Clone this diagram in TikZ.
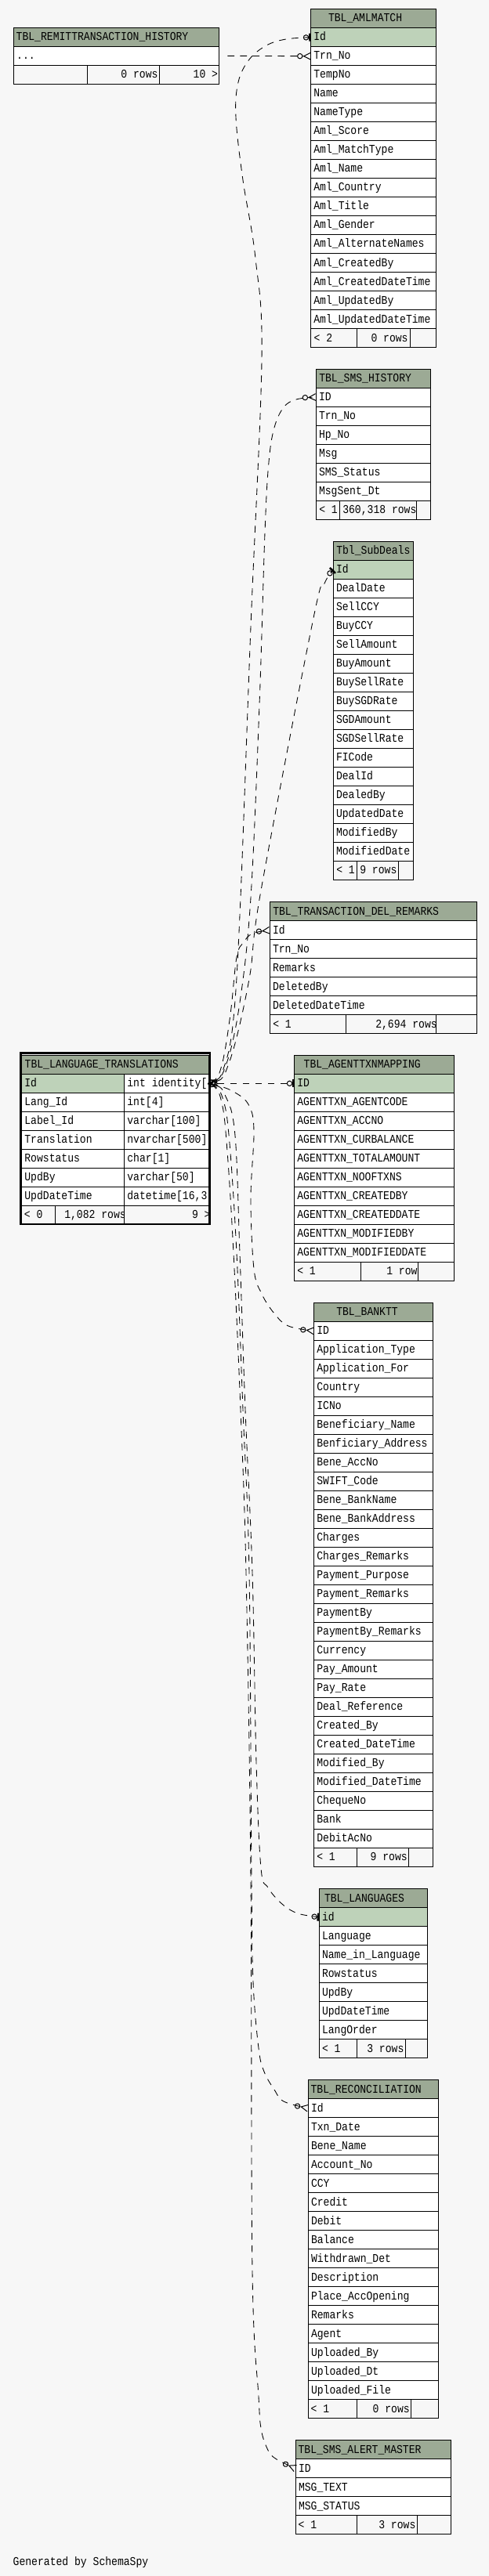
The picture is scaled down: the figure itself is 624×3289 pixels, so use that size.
\documentclass[tikz,border=0pt]{standalone}
\usepackage{fontspec}
\usetikzlibrary{arrows.meta}
\newfontfamily\tblfont[FakeStretch=0.86]{Liberation Mono}
\definecolor{bgc}{HTML}{F7F7F7}
\definecolor{hdrc}{HTML}{9CAA95}
\definecolor{keyc}{HTML}{BED2B9}
\newcommand\tdots{.{}.{}.}
\tikzset{
  cellbox/.style={draw=black, line width=0.75pt},
  txt/.style={anchor=base west, inner sep=0pt, outer sep=0pt, font={\tblfont\fontsize{11.4pt}{12pt}\selectfont}},
  rel/.style={draw=black, line width=0.65pt, dash pattern=on 6.5pt off 5.5pt},
  toparent/.style={arrows={{Straight Barb[reversed,length=6pt,width=7pt,line width=0.7pt]}-{Circle[open,length=5.5pt,width=5.5pt,line width=0.75pt] Bar[width=7.5pt,line width=1.9pt]}}},
  tochild/.style={arrows={{Bar[width=7pt,line width=0.9pt]}-{Circle[open,length=5.5pt,width=5.5pt,line width=0.75pt] Straight Barb[reversed,length=6.5pt,width=6.5pt,line width=0.75pt]}}},
  remitrel/.style={arrows={-{Circle[open,length=5.5pt,width=5.5pt,line width=0.75pt] Straight Barb[reversed,length=6.5pt,width=6.5pt,line width=0.75pt]}}},
}
% name, x, y, w, header offset, header, key flag, rows
\newcommand\erdtab[8]{%
  \path[cellbox, fill=hdrc] (#2,#3) rectangle ++(#4,24);
  \node[txt] (#1-h) at (#2+#5,#3+16.3) {#6};
  \foreach \rowtext [count=\i] in {#8} {%
    \ifnum\i=1 \ifnum#7=1 \def\fc{keyc}\else\def\fc{white}\fi\else\def\fc{white}\fi
    \path[cellbox, fill=\fc] (#2,#3+24*\i) rectangle ++(#4,24);
    \node[txt] (#1-\i) at (#2+3.7,#3+24*\i+16.3) {\rowtext};
    \coordinate (#1-\i-w) at (#2,#3+24*\i+12);
    \coordinate (#1-\i-e) at (#2+#4,#3+24*\i+12);
  }%
}
% y, x0, x1, x2, x3
\newcommand\erdfoot[5]{%
  \path[cellbox, fill=bgc] (#2,#1) rectangle (#3,#1+24);
  \path[cellbox, fill=bgc] (#3,#1) rectangle (#4,#1+24);
  \path[cellbox, fill=bgc] (#4,#1) rectangle (#5,#1+24);
}
% name, x, ytop, clip x1, clip x2, text
\newcommand\ftxt[6]{%
  \begin{scope}\clip (#4,#3) rectangle (#5,#3+24);
  \node[txt] (#1) at (#2,#3+16.3) {#6};\end{scope}%
}
\begin{document}
\begin{tikzpicture}[x=0.75pt,y=-0.75pt]
\fill[bgc] (0,0) rectangle (624,3289);
\useasboundingbox (0,0) rectangle (624,3289);

% TBL_REMITTRANSACTION_HISTORY
\erdtab{rm}{17.5}{35.3}{262.2}{3.2}{TBL\_REMITTRANSACTION\_HISTORY}{0}{\tdots}
\erdfoot{83.3}{17.5}{111}{203.7}{279.7}
\ftxt{rm-f2}{154.4}{83.3}{111}{203.7}{0 rows}
\ftxt{rm-f3}{246.7}{83.3}{203.7}{279.7}{10 >}

% TBL_AMLMATCH
\erdtab{aml}{396.7}{11.7}{159.6}{22.3}{TBL\_AMLMATCH}{1}{Id, Trn\_No, TempNo, Name, NameType, Aml\_Score, Aml\_MatchType, Aml\_Name, Aml\_Country, Aml\_Title, Aml\_Gender, Aml\_AlternateNames, Aml\_CreatedBy, Aml\_CreatedDateTime, Aml\_UpdatedBy, Aml\_UpdatedDateTime}
\erdfoot{419.7}{396.7}{455.2}{523.3}{556.3}
\ftxt{aml-f1}{400.7}{419.7}{396.7}{455.2}{< 2}
\ftxt{aml-f2}{473.5}{419.7}{455.2}{523.3}{0 rows}

% TBL_SMS_HISTORY
\erdtab{sms}{403.3}{471}{146}{4}{TBL\_SMS\_HISTORY}{0}{ID, Trn\_No, Hp\_No, Msg, SMS\_Status, MsgSent\_Dt}
\erdfoot{639}{403.3}{433.3}{531.7}{549.3}
\ftxt{sms-f1}{407.3}{639}{403.3}{433.3}{< 1}
\ftxt{sms-f2}{437.3}{639}{433.3}{531.7}{360,318 rows}

% Tbl_SubDeals
\erdtab{sd}{425.3}{691.5}{102}{4}{Tbl\_SubDeals}{1}{Id, DealDate, SellCCY, BuyCCY, SellAmount, BuyAmount, BuySellRate, BuySGDRate, SGDAmount, SGDSellRate, FICode, DealId, DealedBy, UpdatedDate, ModifiedBy, ModifiedDate}
\erdfoot{1099.5}{425.3}{455.7}{508.7}{527.3}
\ftxt{sd-f1}{429.3}{1099.5}{425.3}{455.7}{< 1}
\ftxt{sd-f2}{459.3}{1099.5}{455.7}{508.7}{9 rows}

% TBL_TRANSACTION_DEL_REMARKS
\erdtab{tdr}{344.3}{1151.7}{264.4}{4}{TBL\_TRANSACTION\_DEL\_REMARKS}{0}{Id, Trn\_No, Remarks, DeletedBy, DeletedDateTime}
\erdfoot{1295.7}{344.3}{441.7}{556.3}{608.7}
\ftxt{tdr-f1}{348.3}{1295.7}{344.3}{441.7}{< 1}
\ftxt{tdr-f2}{479.3}{1295.7}{441.7}{556.3}{2,694 rows}

% TBL_AGENTTXNMAPPING
\erdtab{ag}{375.7}{1347.3}{203.6}{12}{TBL\_AGENTTXNMAPPING}{1}{ID, AGENTTXN\_AGENTCODE, AGENTTXN\_ACCNO, AGENTTXN\_CURBALANCE, AGENTTXN\_TOTALAMOUNT, AGENTTXN\_NOOFTXNS, AGENTTXN\_CREATEDBY, AGENTTXN\_CREATEDDATE, AGENTTXN\_MODIFIEDBY, AGENTTXN\_MODIFIEDDATE}
\erdfoot{1611.3}{375.7}{460.7}{533.7}{579.3}
\ftxt{ag-f1}{379.3}{1611.3}{375.7}{460.7}{< 1}
\ftxt{ag-f2}{493.3}{1611.3}{460.7}{533.7}{1 row}

% TBL_LANGUAGE_TRANSLATIONS (focus table)
\path[cellbox, fill=hdrc] (27.7,1347.3) rectangle (266.7,1371.3);
\node[txt] (lt-h) at (31.7,1363.6) {TBL\_LANGUAGE\_TRANSLATIONS};
\path[cellbox, fill=keyc] (27.7,1371.3) rectangle (158.7,1395.3);
\path[cellbox, fill=white] (158.7,1371.3) rectangle (266.7,1395.3);
\foreach \k in {1,...,6} {
  \path[cellbox, fill=white] (27.7,1371.3+24*\k) rectangle (158.7,1395.3+24*\k);
  \path[cellbox, fill=white] (158.7,1371.3+24*\k) rectangle (266.7,1395.3+24*\k);
}
\node[txt] (lt-1) at (31.4,1387.6) {Id};
\node[txt] (lt-2) at (31.4,1411.6) {Lang\_Id};
\node[txt] (lt-3) at (31.4,1435.6) {Label\_Id};
\node[txt] (lt-4) at (31.4,1459.6) {Translation};
\node[txt] (lt-5) at (31.4,1483.6) {Rowstatus};
\node[txt] (lt-6) at (31.4,1507.6) {UpdBy};
\node[txt] (lt-7) at (31.4,1531.6) {UpdDateTime};
\begin{scope}
\clip (158.7,1371.3) rectangle (266.2,1539.3);
\node[txt] (lt-t1) at (162.4,1387.6) {int identity[4]};
\node[txt] (lt-t2) at (162.4,1411.6) {int[4]};
\node[txt] (lt-t3) at (162.4,1435.6) {varchar[100]};
\node[txt] (lt-t4) at (162.4,1459.6) {nvarchar[500]};
\node[txt] (lt-t5) at (162.4,1483.6) {char[1]};
\node[txt] (lt-t6) at (162.4,1507.6) {varchar[50]};
\node[txt] (lt-t7) at (162.4,1531.6) {datetime[16,3]};
\end{scope}
\erdfoot{1539.3}{27.7}{70.7}{158.7}{266.7}
\ftxt{lt-f1}{31}{1539.3}{27.7}{70.7}{< 0}
\ftxt{lt-f2}{82.3}{1539.3}{70.7}{158.7}{1,082 rows}
\ftxt{lt-f3}{245}{1539.3}{158.7}{266.7}{9 >}
\draw[line width=2pt] (26.35,1344.8) rectangle (268,1563);
\coordinate (lt-1-e) at (269.3,1383.3);

% TBL_BANKTT
\erdtab{bk}{400.7}{1663.3}{151.6}{28.6}{TBL\_BANKTT}{0}{ID, Application\_Type, Application\_For, Country, ICNo, Beneficiary\_Name, Benficiary\_Address, Bene\_AccNo, SWIFT\_Code, Bene\_BankName, Bene\_BankAddress, Charges, Charges\_Remarks, Payment\_Purpose, Payment\_Remarks, PaymentBy, PaymentBy\_Remarks, Currency, Pay\_Amount, Pay\_Rate, Deal\_Reference, Created\_By, Created\_DateTime, Modified\_By, Modified\_DateTime, ChequeNo, Bank, DebitAcNo}
\erdfoot{2359.3}{400.7}{455.3}{521.3}{552.3}
\ftxt{bk-f1}{404.3}{2359.3}{400.7}{455.3}{< 1}
\ftxt{bk-f2}{472.7}{2359.3}{455.3}{521.3}{9 rows}

% TBL_LANGUAGES
\erdtab{lg}{407.3}{2411.7}{138}{6.7}{TBL\_LANGUAGES}{1}{id, Language, Name\_in\_Language, Rowstatus, UpdBy, UpdDateTime, LangOrder}
\erdfoot{2603.7}{407.3}{455.7}{517.7}{545.3}
\ftxt{lg-f1}{411}{2603.7}{407.3}{455.7}{< 1}
\ftxt{lg-f2}{468.3}{2603.7}{455.7}{517.7}{3 rows}

% TBL_RECONCILIATION
\erdtab{rc}{393.3}{2655.7}{166}{3.3}{TBL\_RECONCILIATION}{0}{Id, Txn\_Date, Bene\_Name, Account\_No, CCY, Credit, Debit, Balance, Withdrawn\_Det, Description, Place\_AccOpening, Remarks, Agent, Uploaded\_By, Uploaded\_Dt, Uploaded\_File}
\erdfoot{3063.7}{393.3}{455.3}{524.7}{559.3}
\ftxt{rc-f1}{396.7}{3063.7}{393.3}{455.3}{< 1}
\ftxt{rc-f2}{475.7}{3063.7}{455.3}{524.7}{0 rows}

% TBL_SMS_ALERT_MASTER
\erdtab{al}{377.3}{3115.7}{198}{3.3}{TBL\_SMS\_ALERT\_MASTER}{0}{ID, MSG\_TEXT, MSG\_STATUS}
\erdfoot{3211.7}{377.3}{455.3}{532.3}{575.3}
\ftxt{al-f1}{380.7}{3211.7}{377.3}{455.3}{< 1}
\ftxt{al-f2}{483.3}{3211.7}{455.3}{532.3}{3 rows}

\node[txt] (gen) at (16.7,3275.5) {Generated by SchemaSpy};

% connectors
\draw[rel, remitrel, shorten <=8pt] (rm-1-e) -- (aml-2-w);
\draw[rel, toparent] plot[smooth, tension=0.6] coordinates {(lt-1-e) (286,1362) (298,1300) (307,1146) (320,800) (334,460) (326,330) (310,230) (301,150) (304,105) (318,76) (340,58) (365,50) (aml-1-w)};
\draw[rel, tochild] plot[smooth, tension=0.6] coordinates {(lt-1-e) (289,1358) (306,1280) (320,1146) (331,900) (338,680) (343,590) (350,546) (362,520) (378,510) (sms-1-w)};
\draw[rel, toparent] plot[smooth, tension=0.6] coordinates {(lt-1-e) (293,1355) (318,1250) (333,1137) (400,789) (414,745) (sd-1-w)};
\draw[rel, tochild] plot[smooth, tension=0.6] coordinates {(lt-1-e) (283,1360) (294,1295) (302,1222) (311,1203) (322,1192) (tdr-1-w)};
\draw[rel, toparent] (lt-1-e) -- (ag-1-w);
\draw[rel, tochild] plot[smooth, tension=0.6] coordinates {(lt-1-e) (300,1395) (318,1412) (324,1445) (320,1530) (324,1620) (334,1652) (350,1677) (368,1693) (bk-1-w)};
\draw[rel, toparent] plot[smooth, tension=0.6] coordinates {(lt-1-e) (288,1400) (300,1450) (306,1600) (313,1800) (322,2008) (327,2250) (333,2385) (342,2410) (360,2431) (380,2443) (lg-1-w)};
\draw[rel, tochild] plot[smooth, tension=0.6] coordinates {(lt-1-e) (285,1405) (293,1460) (302,1600) (310,1800) (318,2008) (321,2400) (323,2530) (330,2615) (337,2645) (350,2668) (362,2683) (rc-1-w)};
\draw[rel, tochild] plot[smooth, tension=0.6] coordinates {(lt-1-e) (283,1408) (290,1470) (298,1600) (307,1800) (314,2008) (320,2400) (322,2900) (330,3060) (333,3100) (340,3124) (350,3138) (al-1-w)};
\end{tikzpicture}
\end{document}
